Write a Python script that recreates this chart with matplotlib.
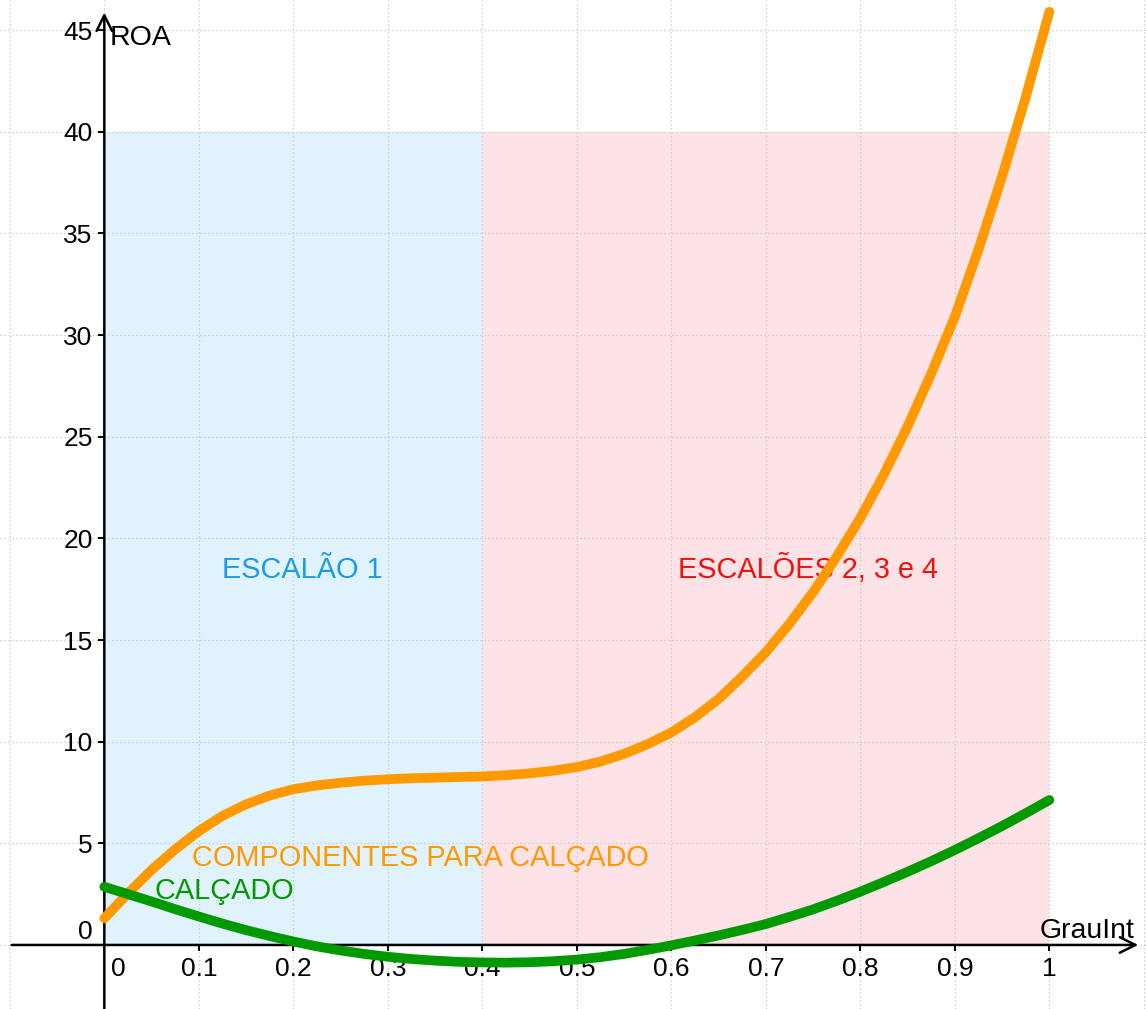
import matplotlib
matplotlib.use('Agg')
from matplotlib import pyplot as plt
import numpy as np

plt.rcParams['font.family'] = ['Liberation Sans', 'DejaVu Sans']

# Grau de internacionalização (x) e ROA das duas curvas
grau = [0.000, 0.025, 0.050, 0.075, 0.100, 0.125, 0.150, 0.175, 0.200, 0.225,
        0.250, 0.275, 0.300, 0.325, 0.350, 0.375, 0.400, 0.425, 0.450, 0.475,
        0.500, 0.525, 0.550, 0.575, 0.600, 0.625, 0.650, 0.675, 0.700, 0.725,
        0.750, 0.775, 0.800, 0.825, 0.850, 0.875, 0.900, 0.925, 0.950, 0.975, 1.000]
roa_componentes = [1.31, 2.54, 3.69, 4.70, 5.60, 6.35, 6.92, 7.35, 7.66, 7.85,
                   7.98, 8.08, 8.15, 8.20, 8.23, 8.26, 8.29, 8.35, 8.44, 8.57,
                   8.75, 9.02, 9.40, 9.88, 10.45, 11.20, 12.10, 13.20, 14.40, 15.80,
                   17.35, 19.10, 21.00, 23.15, 25.50, 28.10, 30.90, 34.20, 37.80, 41.70, 45.90]
roa_calcado = [2.86, 2.50, 2.14, 1.76, 1.40, 1.05, 0.73, 0.44, 0.17, -0.07,
               -0.27, -0.44, -0.58, -0.69, -0.77, -0.83, -0.86, -0.87, -0.85, -0.80,
               -0.72, -0.60, -0.44, -0.24, -0.02, 0.22, 0.47, 0.74, 1.03, 1.38,
               1.75, 2.17, 2.62, 3.10, 3.60, 4.12, 4.67, 5.25, 5.85, 6.48, 7.13]

# Escalões (faixas sombreadas)
escalao1 = [0.0, 0.4]
escaloes234 = [0.4, 1.0]
topo_faixa = 40

xticks = [0.1, 0.2, 0.3, 0.4, 0.5, 0.6, 0.7, 0.8, 0.9, 1.0]
xticklabels = ['0.1', '0.2', '0.3', '0.4', '0.5', '0.6', '0.7', '0.8', '0.9', '1']
yticks = [5, 10, 15, 20, 25, 30, 35, 40, 45]

fig = plt.figure(figsize=(11.46, 10.09), dpi=100)
ax = fig.add_axes([0, 0, 1, 1])
ax.set_xlim(-0.1104, 1.1023)
ax.set_ylim(-3.15, 46.48)

# faixas
ax.fill_between(escalao1, 0, topo_faixa, color='#e0f2fb', lw=0, zorder=1)
ax.fill_between(escaloes234, 0, topo_faixa, color='#fde3e5', lw=0, zorder=1)

# grelha pontilhada (major + minor para cobrir toda a janela)
ax.set_xticks(np.arange(-0.1, 1.15, 0.1), minor=True)
ax.set_yticks(np.arange(0, 50, 5), minor=True)
ax.grid(which='both', color='#c4c4c4', lw=0.9, linestyle=(0, (1, 2.2)))
ax.tick_params(which='minor', length=0)

# eixos com seta
for s in ax.spines.values():
    s.set_visible(False)
ax.spines['left'].set_position(('data', 0))
ax.spines['bottom'].set_position(('data', 0))
ax.annotate('', xy=(1.094, 0), xytext=(-0.098, 0),
            arrowprops=dict(arrowstyle='->', lw=1.8, color='black', mutation_scale=28,
                            shrinkA=0, shrinkB=0), zorder=1.9)
ax.annotate('', xy=(0, 45.86), xytext=(0, -3.15),
            arrowprops=dict(arrowstyle='->', lw=1.8, color='black', mutation_scale=28,
                            shrinkA=0, shrinkB=0), zorder=1.9)

ax.set_xticks(xticks)
ax.set_xticklabels(xticklabels)
ax.set_yticks(yticks)
ax.tick_params(which='major', direction='out', length=4, width=1.4, labelsize=19, pad=4.5)
ax.text(0.0146, -0.6, '0', fontsize=19, ha='center', va='top')
ax.text(-0.012, 0.64, '0', fontsize=19, ha='right', va='center')
ax.text(0.006, 44.27, 'ROA', fontsize=20.5, ha='left', va='baseline')
ax.text(0.990, 0.34, 'GrauInt', fontsize=20.5, ha='left', va='baseline')

# curvas
ax.plot(grau, roa_componentes, color='#ff9900', lw=7, solid_capstyle='round',
        solid_joinstyle='round', zorder=3)
ax.plot(grau, roa_calcado, color='#009900', lw=7, solid_capstyle='round',
        solid_joinstyle='round', zorder=3)

# rótulos
ax.text(0.1248, 18.07, 'ESCALÃO 1', color='#1c9be6', fontsize=20.8, va='baseline', zorder=1.8)
ax.text(0.607, 18.07, 'ESCALÕES 2, 3 e 4', color='#f01010', fontsize=20.8, va='baseline', zorder=1.8)
ax.text(0.0925, 3.9, 'COMPONENTES PARA CALÇADO', color='#ff9900', fontsize=20.8, va='baseline')
ax.text(0.053, 2.26, 'CALÇADO', color='#009900', fontsize=20.8, va='baseline')

fig.savefig('out.png', dpi=100)
